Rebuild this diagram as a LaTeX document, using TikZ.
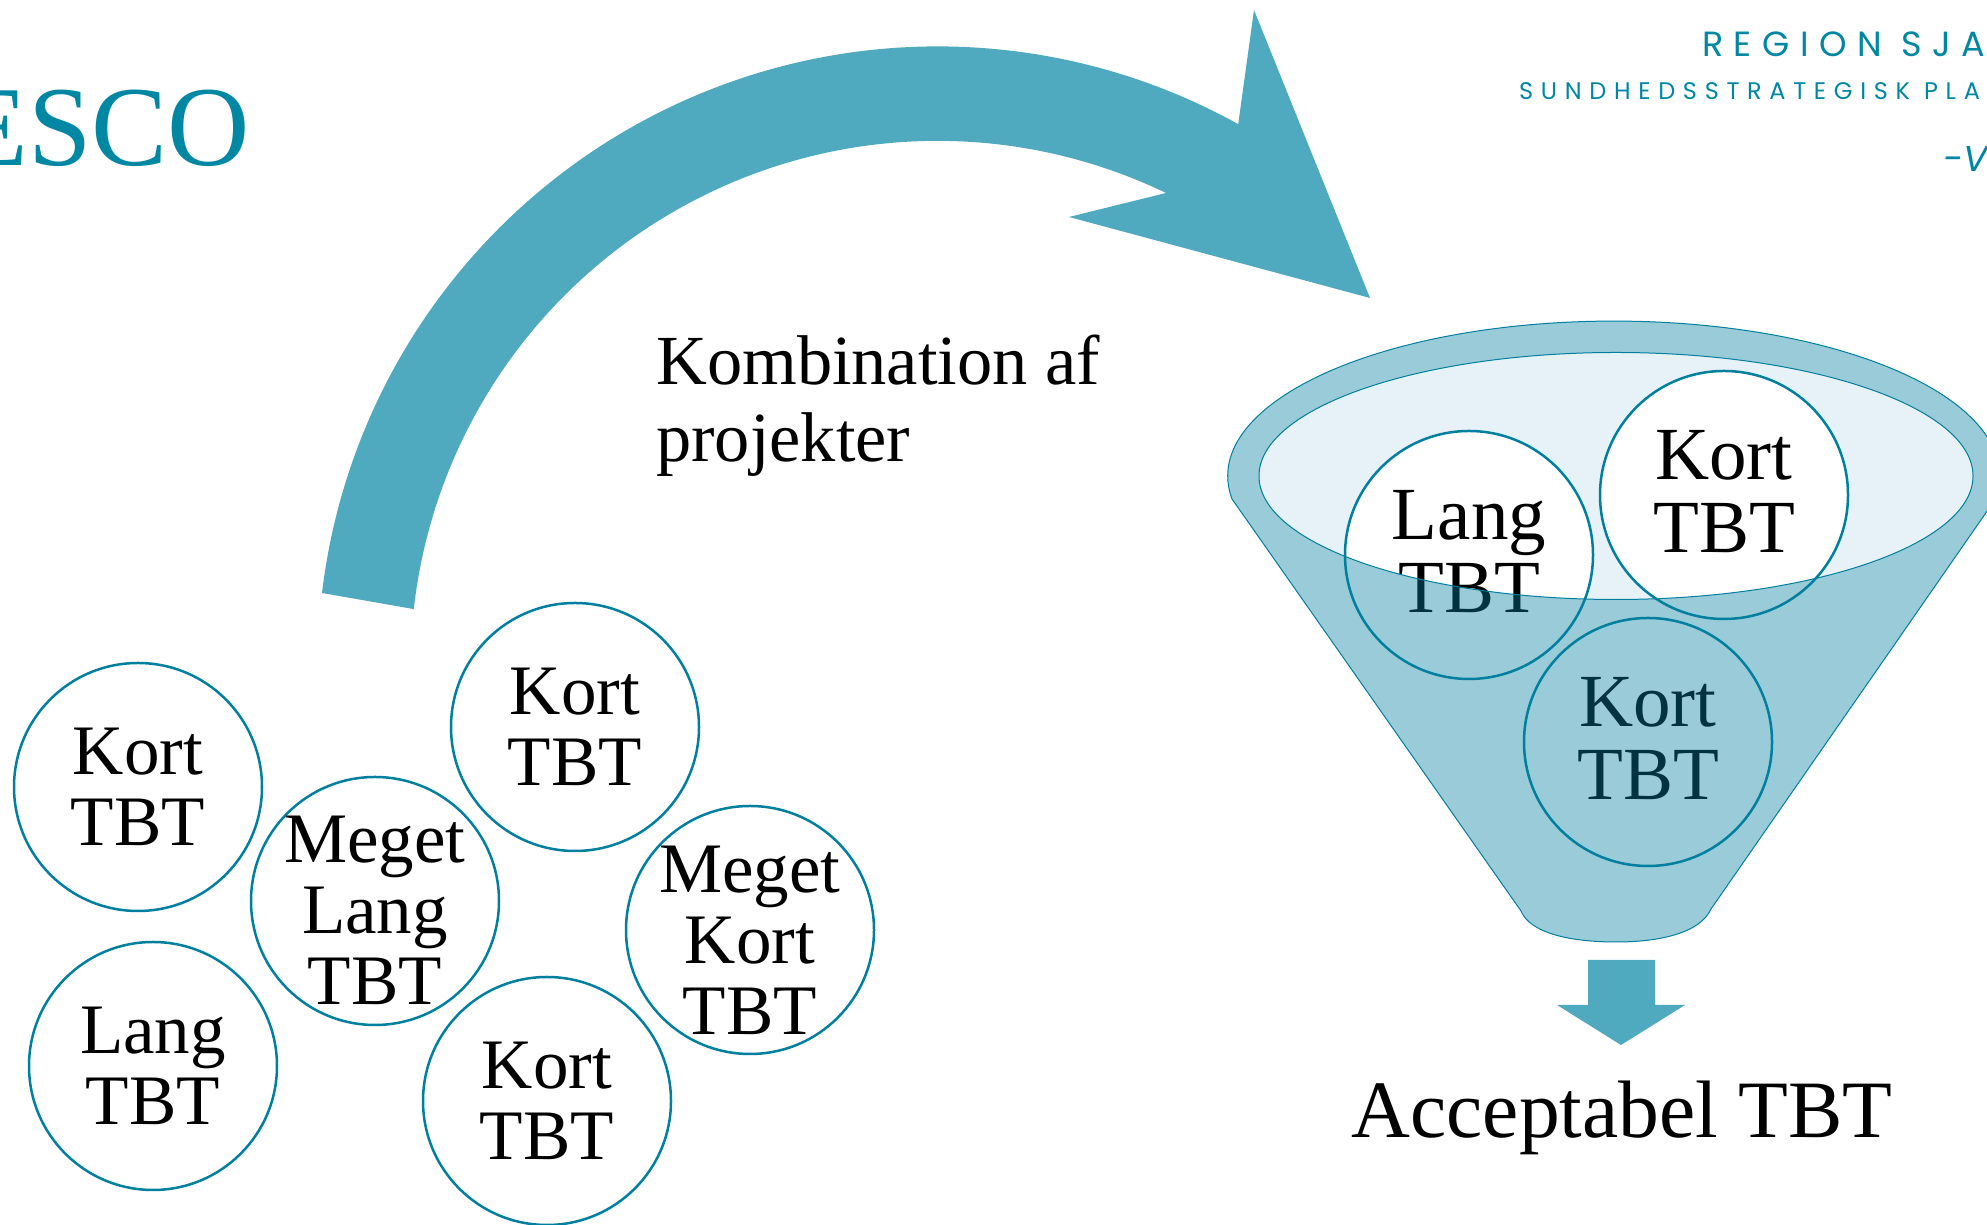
\documentclass[tikz,border=0pt]{standalone}
\usepackage{fontspec}
\setmainfont{Liberation Serif}
\newfontfamily\logoA[LetterSpace=30]{Poppins}
\newfontfamily\logoB[LetterSpace=32]{Poppins}
\newfontfamily\logoC{Poppins}
\definecolor{teal1}{HTML}{007F9E}
\definecolor{arrowblue}{HTML}{4FAAC0}
\definecolor{bowl}{HTML}{E6F2F7}
\definecolor{titleteal}{HTML}{0087A3}
\newcommand{\pushdown}[1]{\rule{0pt}{#1}}
\newcommand{\pushup}[1]{\rule[-#1]{0pt}{0pt}}
\tikzset{
  tbt/.style={circle,draw=teal1,line width=2.5pt,fill=white,minimum size=248pt,inner sep=-40pt,align=center,
    font=\fontsize{71}{71}\selectfont},
  tbtf/.style={tbt,font=\fontsize{75}{73}\selectfont},
  label text/.style={inner sep=0pt,align=left,font=\fontsize{70.4}{77}\selectfont},
  bigarrow/.style={fill=arrowblue,draw=none}
}
\begin{document}
\begin{tikzpicture}[x=1pt,y=1pt]
\path[use as bounding box,clip] (0,0) rectangle (1987,1225);
\fill[white] (0,0) rectangle (1987,1225);
% title and logo
\node[anchor=base east,inner sep=0pt,text=titleteal,font=\fontsize{114}{114}\selectfont] (title) at (250,1059) {ESCO};
\node[anchor=base west,inner sep=0pt,text=titleteal,font=\logoA\fontsize{35}{35}\selectfont] (logoa) at (1702,1168) {REGION SJA};
\node[anchor=base west,inner sep=0pt,text=titleteal,font=\logoB\fontsize{24}{24}\selectfont] (logob) at (1519,1125) {SUNDHEDSSTRATEGISK PLA};
\node[anchor=base west,inner sep=0pt,text=titleteal,font=\logoC\itshape\fontsize{36}{36}\selectfont] (logoc) at (1943,1053) {-V};
% big curved arrow
\path[bigarrow] (322,632) arc[start angle=173.2,end angle=61,radius=620pt]
  -- (1254,1215) -- (1370,927) -- (1069,1008) -- (1166,1032)
  arc[start angle=64.3,end angle=173.6,radius=527pt] -- cycle;
\node[label text,anchor=north west] (kombi) at (656,890) {Kombination af\\projekter};
% loose circles
\node[tbt] (c1) at (138,438) {Kort\\TBT};
\node[tbt] (c2) at (153,159) {Lang\\TBT};
\node[tbt] (c3) at (375,324) {\pushdown{66pt}Meget\\Lang\\TBT};
\node[tbt] (c4) at (575,498) {Kort\\TBT};
\node[tbt] (c5) at (750,295) {\pushdown{68pt}Meget\\Kort\\TBT};
\node[tbt] (c6) at (547,124) {Kort\\TBT};
% funnel: inner bowl, circles, translucent body on top
\fill[bowl] (1616,749) ellipse[x radius=357pt,y radius=123.5pt];
\node[tbtf] (f1) at (1469,670) {Lang\\TBT\pushup{8pt}};
\node[tbtf] (f2) at (1724,730) {Kort\\TBT\pushup{8pt}};
\node[tbtf] (f3) at (1648,483) {Kort\\TBT\pushup{8pt}};
\path[draw=teal1,line width=1pt,fill=teal1,fill opacity=0.4,even odd rule]
  (1232,726) arc[start angle=188.5,end angle=-8.5,x radius=386pt,y radius=155pt]
  -- (1711,316) .. controls (1700,292) and (1660,283) .. (1616,283)
  .. controls (1570,283) and (1530,292) .. (1521,314) -- cycle
  (1616,749) ellipse[x radius=357pt,y radius=123.5pt];
% small down arrow
\path[bigarrow] (1588,265) -- (1655,265) -- (1655,220) -- (1685,220) -- (1621,180) -- (1557,220) -- (1588,220) -- cycle;
\node[inner sep=0pt,font=\fontsize{81.5}{81.5}\selectfont] (result) at (1622,107) {Acceptabel TBT};
\end{tikzpicture}
\end{document}
